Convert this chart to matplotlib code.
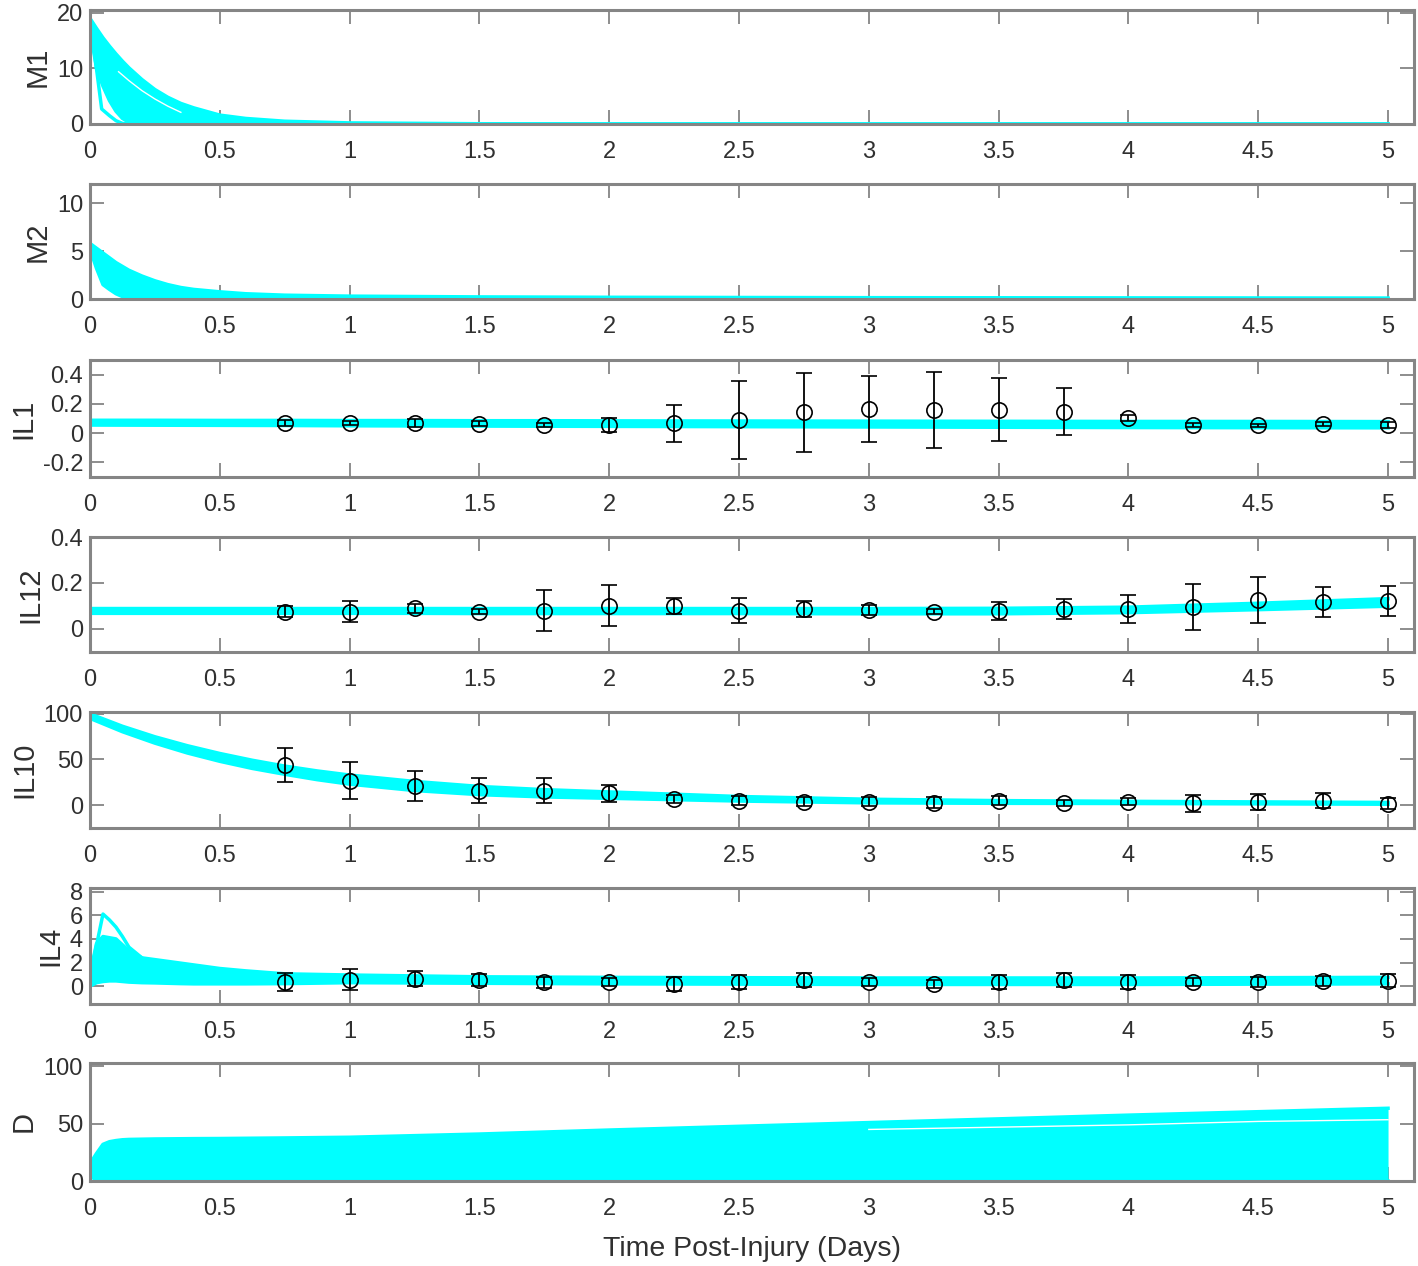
import matplotlib
matplotlib.use("Agg")
import matplotlib.pyplot as plt

plt.rcParams['font.family'] = ['Liberation Sans', 'DejaVu Sans']
plt.rcParams['axes.unicode_minus'] = False

# time grids of the simulated ensemble
t_fast = [0, 0.025, 0.05, 0.075, 0.1, 0.125, 0.15, 0.2, 0.25, 0.3, 0.35, 0.4,
          0.5, 0.6, 0.75, 1.0, 1.5, 2.0, 3.0, 4.0, 5.0]
t_slow = [0, 0.25, 0.5, 0.75, 1.0, 1.25, 1.5, 1.75, 2.0, 2.5, 3.0, 3.5, 4.0, 4.5, 5.0]
t_il10 = [0, 0.125, 0.25, 0.375, 0.5, 0.625, 0.75, 0.875, 1.0, 1.25, 1.5, 1.75,
          2.0, 2.5, 3.0, 3.5, 4.0, 4.5, 5.0]

# ensemble envelopes (upper / lower)
M1_hi = [19.0, 17.2, 15.5, 14.0, 12.6, 11.3, 10.1, 8.0, 6.2, 4.8, 3.7, 2.9,
         1.6, 1.0, 0.5, 0.2, 0.05, 0.02, 0.01, 0.01, 0.01]
M1_lo = [17.0, 10.0, 6.8, 4.2, 2.3, 1.0, 0.3, 0, 0, 0, 0, 0,
         0, 0, 0, 0, 0, 0, 0, 0, 0]
M1_fast_t = [0, 0.045, 0.075, 0.1, 0.125, 0.15]
M1_fast = [19.0, 2.7, 1.5, 0.6, 0.1, 0.0]
M1_gap_t = [0.11, 0.15, 0.2, 0.25, 0.3, 0.35]
M1_gap = [9.4, 7.8, 6.0, 4.5, 3.2, 2.1]

M2_hi = [5.8, 5.3, 4.8, 4.3, 3.8, 3.4, 3.0, 2.4, 1.9, 1.5, 1.2, 1.0,
         0.75, 0.55, 0.4, 0.3, 0.22, 0.18, 0.14, 0.12, 0.1]
M2_lo = [5.2, 3.2, 1.5, 1.0, 0.55, 0.25, 0.08, 0, 0, 0, 0, 0,
         0, 0, 0, 0, 0, 0, 0, 0, 0]

IL1_hi = [0.088, 0.088, 0.087, 0.087, 0.086, 0.086, 0.085, 0.085, 0.084,
          0.083, 0.082, 0.081, 0.080, 0.080, 0.079]
IL1_lo = [0.055, 0.054, 0.053, 0.052, 0.050, 0.049, 0.048, 0.047, 0.046,
          0.044, 0.042, 0.040, 0.038, 0.037, 0.036]

IL12_hi = [0.089, 0.089, 0.089, 0.089, 0.089, 0.089, 0.089, 0.089, 0.089,
           0.089, 0.089, 0.090, 0.095, 0.112, 0.132]
IL12_lo = [0.068, 0.068, 0.068, 0.068, 0.068, 0.068, 0.067, 0.067, 0.067,
           0.067, 0.066, 0.066, 0.071, 0.084, 0.099]

IL10_hi = [100, 86.4, 74.9, 65.1, 56.6, 49.2, 42.8, 37.5, 33, 26, 20.5, 17,
           14.5, 9.5, 6.5, 5, 4.2, 3.6, 3]
IL10_lo = [95, 80.4, 67.9, 57.1, 48, 40.2, 33.8, 27.9, 23, 16, 11.5, 9,
           7.5, 4.5, 2.5, 2, 1.8, 1.4, 1]

IL4_hi = [1.0, 3.6, 4.2, 4.1, 4.0, 3.5, 3.0, 2.4, 2.25, 2.1, 1.95, 1.8,
          1.5, 1.3, 1.05, 0.95, 0.8, 0.75, 0.7, 0.7, 0.75]
IL4_lo = [0.0, 0.3, 0.4, 0.45, 0.45, 0.4, 0.35, 0.3, 0.28, 0.25, 0.22, 0.2,
          0.2, 0.2, 0.22, 0.3, 0.25, 0.2, 0.15, 0.15, 0.2]
IL4_peak_t = [0, 0.05, 0.075, 0.1, 0.125, 0.15, 0.2]
IL4_peak = [0.8, 6.1, 5.6, 5.0, 4.2, 3.3, 2.4]

D_hi = [15, 24, 32, 34.3, 35.3, 36, 36.3, 36.5, 36.7, 36.8, 36.9, 37,
        37.1, 37.3, 37.6, 38.2, 41, 44.5, 51, 57.5, 63.5]
D_lo = [4, 1, 0.3, 0, 0, 0, 0, 0, 0, 0, 0, 0,
        0, 0, 0, 0, 0, 0, 0, 0, 0]
D_gap_t = [3.0, 3.5, 4.0, 4.5, 5.0]
D_gap = [45, 47, 49, 52, 53.5]

# experimental data (mean +- sd)
t_obs = [0.75, 1.0, 1.25, 1.5, 1.75, 2.0, 2.25, 2.5, 2.75, 3.0, 3.25, 3.5,
         3.75, 4.0, 4.25, 4.5, 4.75, 5.0]
IL1_mean = [0.07, 0.07, 0.07, 0.065, 0.055, 0.055, 0.067, 0.09, 0.143, 0.166,
            0.159, 0.159, 0.147, 0.106, 0.055, 0.055, 0.062, 0.055]
IL1_err = [0.02, 0.015, 0.025, 0.015, 0.015, 0.05, 0.125, 0.265, 0.27, 0.225,
           0.26, 0.215, 0.163, 0.02, 0.015, 0.01, 0.015, 0.02]
IL12_mean = [0.076, 0.076, 0.09, 0.076, 0.08, 0.102, 0.10, 0.08, 0.087, 0.083,
             0.076, 0.078, 0.087, 0.087, 0.095, 0.127, 0.117, 0.123]
IL12_err = [0.025, 0.044, 0.02, 0.012, 0.09, 0.09, 0.033, 0.055, 0.033, 0.02,
            0.01, 0.038, 0.045, 0.06, 0.1, 0.1, 0.067, 0.066]
IL10_mean = [44, 27, 21, 16, 16, 13, 6.7, 4.8, 3.7, 3.7, 2.6, 4.8, 2.6, 3.7,
             1.9, 3.7, 4.8, 1.5]
IL10_err = [19, 20, 16, 14, 14, 9, 4, 5, 5, 5, 6, 5, 3, 4, 9, 9, 8, 6]
IL4_mean = [0.37, 0.56, 0.65, 0.5, 0.34, 0.37, 0.17, 0.37, 0.56, 0.37, 0.17,
            0.37, 0.51, 0.37, 0.37, 0.37, 0.45, 0.45]
IL4_err = [0.75, 0.9, 0.65, 0.5, 0.45, 0.35, 0.6, 0.6, 0.6, 0.35, 0.35, 0.6,
           0.57, 0.6, 0.35, 0.4, 0.45, 0.55]

names = ['M1', 'M2', 'IL1', 'IL12', 'IL10', 'IL4', 'D']
x_ticks = [0, 0.5, 1, 1.5, 2, 2.5, 3, 3.5, 4, 4.5, 5]
x_labels = ['0', '0.5', '1', '1.5', '2', '2.5', '3', '3.5', '4', '4.5', '5']
y_ticks = [[0, 10, 20], [0, 5, 10], [-0.2, 0, 0.2, 0.4], [0, 0.2, 0.4],
           [0, 50, 100], [0, 2, 4, 6, 8], [0, 50, 100]]
y_labels = [['0', '10', '20'], ['0', '5', '10'], ['-0.2', '0', '0.2', '0.4'],
            ['0', '0.2', '0.4'], ['0', '50', '100'], ['0', '2', '4', '6', '8'],
            ['0', '50', '100']]
y_lims = [(0, 20.5), (0, 12), (-0.3, 0.5), (-0.1, 0.4), (-25, 102),
          (-1.5, 8.3), (0, 103)]

W, H = 1418, 1266
boxes = [(10, 124), (184, 299), (360, 477), (537, 652), (712, 828),
         (888, 1004), (1063, 1181)]
CY = '#00ffff'
GR = '#858585'
TX = '#303030'

fig = plt.figure(figsize=(W / 100, H / 100), dpi=100)
axes = []
for i, (top, bot) in enumerate(boxes):
    ax = fig.add_axes([90 / W, 1 - bot / H, 1324 / W, (bot - top) / H])
    axes.append(ax)


def band(ax, t, lo, hi):
    ax.fill_between(t, lo, hi, color=CY, lw=0, zorder=2)
    ax.plot(t, hi, color=CY, lw=2.5, zorder=2)
    ax.plot(t, lo, color=CY, lw=2.5, zorder=2)


def data(ax, m, e):
    ax.errorbar(t_obs, m, yerr=e, fmt='o', mfc='none', mec='k', ecolor='k',
                ms=11, mew=1.2, elinewidth=1.3, capsize=6, capthick=1.3,
                zorder=4)


band(axes[0], t_fast, M1_lo, M1_hi)
axes[0].plot(M1_fast_t, M1_fast, color=CY, lw=2.5, zorder=2)
axes[0].plot(M1_gap_t, M1_gap, color='white', lw=1, zorder=3)
band(axes[1], t_fast, M2_lo, M2_hi)
band(axes[2], t_slow, IL1_lo, IL1_hi)
data(axes[2], IL1_mean, IL1_err)
band(axes[3], t_slow, IL12_lo, IL12_hi)
data(axes[3], IL12_mean, IL12_err)
band(axes[4], t_il10, IL10_lo, IL10_hi)
data(axes[4], IL10_mean, IL10_err)
band(axes[5], t_fast, IL4_lo, IL4_hi)
axes[5].plot(IL4_peak_t, IL4_peak, color=CY, lw=2.5, zorder=2)
data(axes[5], IL4_mean, IL4_err)
band(axes[6], t_fast, D_lo, D_hi)
axes[6].plot(D_gap_t, D_gap, color='white', lw=1, zorder=3)

for i, ax in enumerate(axes):
    ax.set_xlim(0, 5.1)
    ax.set_ylim(*y_lims[i])
    ax.set_xticks(x_ticks)
    ax.set_xticklabels(x_labels)
    ax.set_yticks(y_ticks[i])
    ax.set_yticklabels(y_labels[i])
    ax.tick_params(direction='in', length=10, width=1.3, color=GR,
                   labelsize=17, labelcolor=TX, top=True, right=True)
    ax.tick_params(axis='x', pad=12)
    ax.tick_params(axis='y', pad=5)
    for s in ax.spines.values():
        s.set_color(GR)
        s.set_linewidth(2.2)
        s.set_zorder(5)
    ax.set_ylabel(names[i], fontsize=21, color=TX, labelpad=4)

axes[6].set_xlabel('Time Post-Injury (Days)', fontsize=20.5, color=TX,
                   labelpad=12)

fig.savefig('out.png', dpi=100)
